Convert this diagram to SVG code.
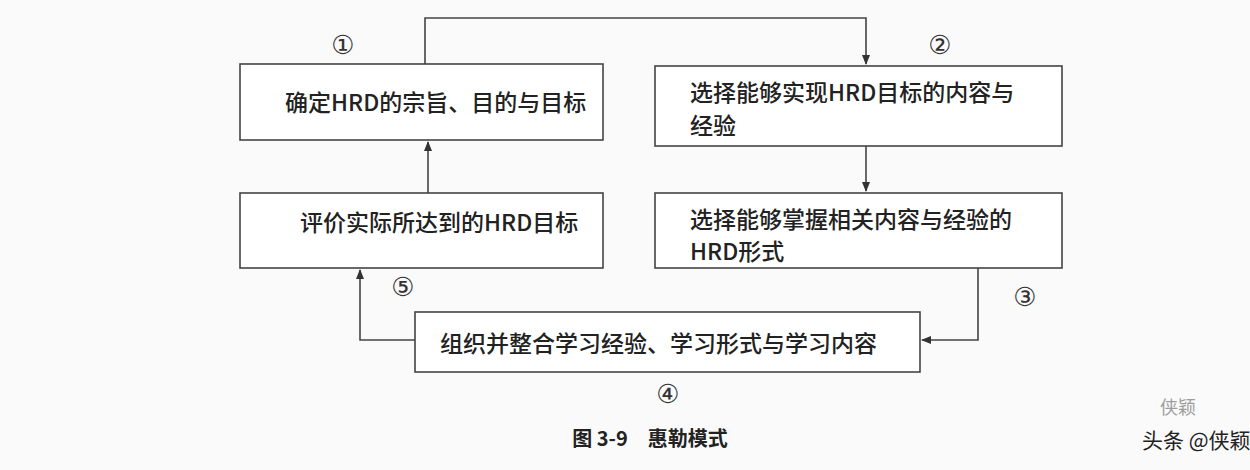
<svg xmlns="http://www.w3.org/2000/svg" width="1250" height="470" viewBox="0 0 1250 470">
<defs>
<marker id="ah" markerWidth="10" markerHeight="10" refX="9" refY="5" orient="auto" markerUnits="userSpaceOnUse">
<path d="M0,1 L10,5 L0,9 Z" fill="#333"/>
</marker>
<style>
.box{fill:#fff;stroke:#444;stroke-width:1.6}
.t{font-family:"Noto Sans CJK SC","Liberation Serif",serif;font-size:23px;font-weight:500;fill:#222}
.n{font-family:"DejaVu Sans","Noto Sans CJK SC",sans-serif;font-size:26px;fill:#333}
.c{fill:none;stroke:#444;stroke-width:1.6}
</style>
</defs>
<rect width="1250" height="470" fill="#fafafa"/>
<g id="connectors">
<path class="c" d="M425,64 V18 H866 V64" marker-end="url(#ah)"/>
<path class="c" d="M866,146 V191" marker-end="url(#ah)"/>
<path class="c" d="M978,268 V340 H922" marker-end="url(#ah)"/>
<path class="c" d="M415,340 H360 V270" marker-end="url(#ah)"/>
<path class="c" d="M428,193 V142" marker-end="url(#ah)"/>
</g>
<g id="n1"><rect class="box" x="240" y="64" width="363" height="76"/><text class="t" x="285" y="111">确定HRD的宗旨、目的与目标</text></g>
<g id="n2"><rect class="box" x="655" y="66" width="407" height="80"/><text class="t" x="690" y="101">选择能够实现HRD目标的内容与</text><text class="t" x="690" y="134">经验</text></g>
<g id="n3"><rect class="box" x="240" y="193" width="363" height="75"/><text class="t" x="300" y="231">评价实际所达到的HRD目标</text></g>
<g id="n4"><rect class="box" x="655" y="193" width="407" height="75"/><text class="t" x="690" y="228">选择能够掌握相关内容与经验的</text><text class="t" x="690" y="260">HRD形式</text></g>
<g id="n5"><rect class="box" x="415" y="312" width="505" height="60"/><text class="t" x="440" y="352">组织并整合学习经验、学习形式与学习内容</text></g>
<g id="labels">
<text class="n" x="343" y="54" text-anchor="middle">①</text>
<text class="n" x="940" y="54" text-anchor="middle">②</text>
<text class="n" x="1025" y="306" text-anchor="middle">③</text>
<text class="n" x="668" y="403" text-anchor="middle">④</text>
<text class="n" x="403" y="296" text-anchor="middle">⑤</text>
<text x="650" y="446" text-anchor="middle" font-family="Noto Sans CJK SC,sans-serif" font-size="20" font-weight="bold" fill="#222">图 3-9　惠勒模式</text>
<text x="1160" y="414" font-family="Noto Sans CJK SC,sans-serif" font-size="18" fill="#777" opacity="0.7">侠颖</text>
<text x="1142" y="448" font-family="Noto Sans CJK SC,sans-serif" font-size="21" fill="#222">头条 @侠颖</text>
</g>
</svg>
